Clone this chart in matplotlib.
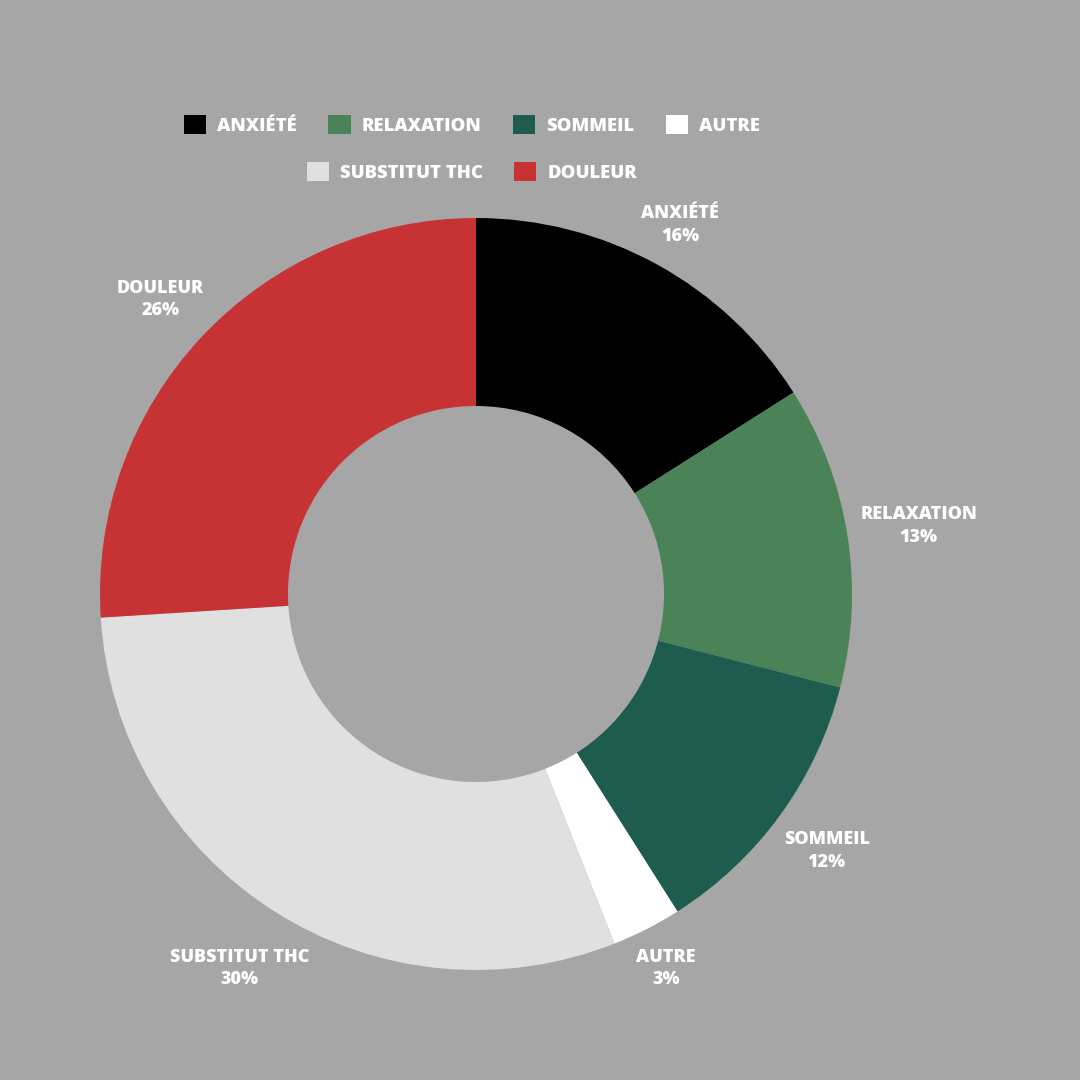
import matplotlib.pyplot as plt
import matplotlib.patches as mpatches
import numpy as np

plt.rcParams['font.family'] = ['Open Sans', 'DejaVu Sans']

labels = ['ANXIÉTÉ', 'RELAXATION', 'SOMMEIL', 'AUTRE', 'SUBSTITUT THC', 'DOULEUR']
values = [16, 13, 12, 3, 30, 26]
colors = ['#000000', '#4a8358', '#1d5c4f', '#ffffff', '#e0e0e0', '#c73235']
bg = '#a6a6a6'

fig = plt.figure(figsize=(10.8, 10.8), dpi=100, facecolor=bg)
ax = fig.add_axes([0, 0, 1, 1])
ax.set_facecolor(bg)

wedges, _ = ax.pie(values, colors=colors, startangle=90, counterclock=False,
                   radius=1.0, wedgeprops=dict(width=0.5, edgecolor='none'))

ax.set_aspect('equal')
ax.set_xlim(-476 / 376, (1080 - 476) / 376)
ax.set_ylim(-(1080 - 594) / 376, 594 / 376)
ax.axis('off')

# labels outside each slice, pushed out so the box sits just off the ring
total = sum(values)
cum = 0
texts = []
angs = []
for lab, v in zip(labels, values):
    mid = (cum + v / 2) / total * 360
    cum += v
    ang = np.deg2rad(90 - mid)
    t = ax.text(0, 0, f'{lab}\n{v}%', ha='center', va='center',
                color='white', fontsize=13, fontweight='heavy', linespacing=1.42)
    texts.append(t)
    angs.append(ang)

fig.canvas.draw()
r = fig.canvas.get_renderer()
for t, ang in zip(texts, angs):
    bb = t.get_window_extent(r)
    hw = bb.width / 2 / 376
    hh = bb.height / 2 / 376
    rad = 1.03 + hw * abs(np.cos(ang)) + hh * abs(np.sin(ang))
    t.set_position((rad * np.cos(ang), rad * np.sin(ang) - 0.005))

handles = [mpatches.Patch(facecolor=c, edgecolor='none', label=l) for c, l in zip(colors, labels)]
common = dict(frameon=False, handlelength=1.2, handleheight=1.2,
              handletextpad=0.6, columnspacing=1.7, labelcolor='white',
              prop=dict(weight='heavy', size=13.3), loc='center')
fig.legend(handles=handles[:4], ncol=4, bbox_to_anchor=(472 / 1080, 1 - 125 / 1080), **common)
fig.legend(handles=handles[4:], ncol=2, bbox_to_anchor=(472 / 1080, 1 - 172 / 1080), **common)

fig.savefig('out.png', dpi=100, facecolor=bg)
